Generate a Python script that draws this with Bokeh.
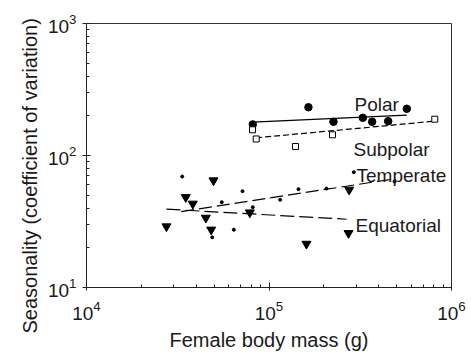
from bokeh.plotting import figure
from bokeh.models import Label, Title, FixedTicker, LogTickFormatter
from bokeh.embed import file_html
from bokeh.resources import INLINE

# ---- data ----
polar_mass = [81500, 164500, 225600, 326600, 367600, 449900, 568900]
polar_cv = [172, 232, 180, 193, 180, 182, 226]

subpolar_mass = [81200, 85100, 139700, 222800, 809600]
subpolar_cv = [156.6, 133.4, 117, 143.5, 188.4]

temperate_mass = [33440, 55090, 71600, 64150, 48850, 81500, 115200, 145100, 206600, 487300, 291600]
temperate_cv = [69.3, 44.3, 53.7, 27.4, 24.0, 40.6, 46.2, 55.6, 56.2, 63.5, 74.7]

equatorial_mass = [27430, 35000, 38220, 49640, 45060, 48230, 78500, 160400, 275000, 272700]
equatorial_cv = [29.0, 48.3, 43.1, 64.7, 33.7, 27.4, 37.0, 21.4, 55.0, 25.8]

# fitted regression lines (end points)
polar_fit_mass = [81500, 568900]
polar_fit_cv = [178.7, 202]
subpolar_fit_mass = [85100, 809600]
subpolar_fit_cv = [136.2, 182]
temperate_fit_mass = [33030, 487300]
temperate_fit_cv = [37.6, 66.6]
equatorial_fit_mass = [27430, 265900]
equatorial_fit_cv = [39.2, 32.9]

group_names = ["Polar", "Subpolar", "Temperate", "Equatorial"]

x_major = [1e4, 1e5, 1e6]
y_major = [1e1, 1e2, 1e3]
x_minor = [m * d for d in (1e4, 1e5) for m in range(2, 10)]
y_minor = [m * d for d in (1e1, 1e2) for m in range(2, 10)]

x_title = "Female body mass (g)"
y_title = "Seasonality (coefficient of variation)"

FONT = "Liberation Sans"
TXT = "#1a1a1a"

p = figure(frame_width=365, frame_height=264, x_axis_type="log", y_axis_type="log",
           x_range=(1e4, 1e6), y_range=(10, 1000),
           output_backend="svg", toolbar_location=None,
           min_border_left=86, min_border_right=20, min_border_top=23, min_border_bottom=68)

p.grid.visible = False
p.outline_line_color = "#333333"
p.outline_line_width = 1
p.background_fill_color = "white"
p.border_fill_color = "white"

p.xaxis[0].ticker = FixedTicker(ticks=x_major, minor_ticks=x_minor)
p.yaxis[0].ticker = FixedTicker(ticks=y_major, minor_ticks=y_minor)
p.xaxis[0].formatter = LogTickFormatter()
p.yaxis[0].formatter = LogTickFormatter()

for ax in (p.xaxis[0], p.yaxis[0]):
    ax.axis_line_color = "#222222"
    ax.major_tick_line_color = "#222222"
    ax.minor_tick_line_color = "#222222"
    ax.major_label_text_font = FONT
    ax.major_label_text_font_size = "19px"
    ax.major_label_text_color = TXT
    ax.axis_label_text_font = FONT
    ax.axis_label_text_font_size = "20px"
    ax.axis_label_text_font_style = "normal"
    ax.axis_label_text_color = TXT
    ax.minor_tick_in = 3
    ax.minor_tick_out = 0

p.xaxis.major_tick_in = 5
p.xaxis.major_tick_out = 3
p.yaxis.major_tick_in = 4
p.yaxis.major_tick_out = 4
p.xaxis.axis_label = x_title
p.xaxis.major_label_standoff = 10
p.yaxis.major_label_standoff = 6
p.xaxis.axis_label_standoff = 6

# y title: vertical title on the left, shifted down like the reference
p.add_layout(Title(text=y_title, align="left", offset=-46, standoff=7,
                   text_font=FONT, text_font_size="20px", text_font_style="normal",
                   text_color=TXT), "left")

# regression lines
p.line(polar_fit_mass, polar_fit_cv, line_color="black", line_width=1.3)
p.line(subpolar_fit_mass, subpolar_fit_cv, line_color="black", line_width=1.2, line_dash="6 3")
p.line(temperate_fit_mass, temperate_fit_cv, line_color="black", line_width=1.2, line_dash="13 5")
p.line(equatorial_fit_mass, equatorial_fit_cv, line_color="black", line_width=1.2, line_dash="14 5")

# points
p.scatter(polar_mass, polar_cv, marker="circle", size=7.5, fill_color="black", line_color="black")
p.scatter(subpolar_mass, subpolar_cv, marker="square", size=6, fill_color="white", line_color="black", line_width=1)
p.scatter(temperate_mass, temperate_cv, marker="circle", size=3, fill_color="black", line_color="black")
p.scatter(equatorial_mass, equatorial_cv, marker="inverted_triangle", size=9, fill_color="black", line_color="black")

# group labels
label_pos = {"Polar": (294000, 243), "Subpolar": (290400, 111),
             "Temperate": (301600, 70.5), "Equatorial": (297800, 29.5)}
for name in group_names:
    lx, ly = label_pos[name]
    p.add_layout(Label(x=lx, y=ly, text=name, text_font=FONT, text_font_size="19px",
                       text_color=TXT, text_baseline="alphabetic", text_align="left"))

open("out.html", "w").write(file_html(p, INLINE))
